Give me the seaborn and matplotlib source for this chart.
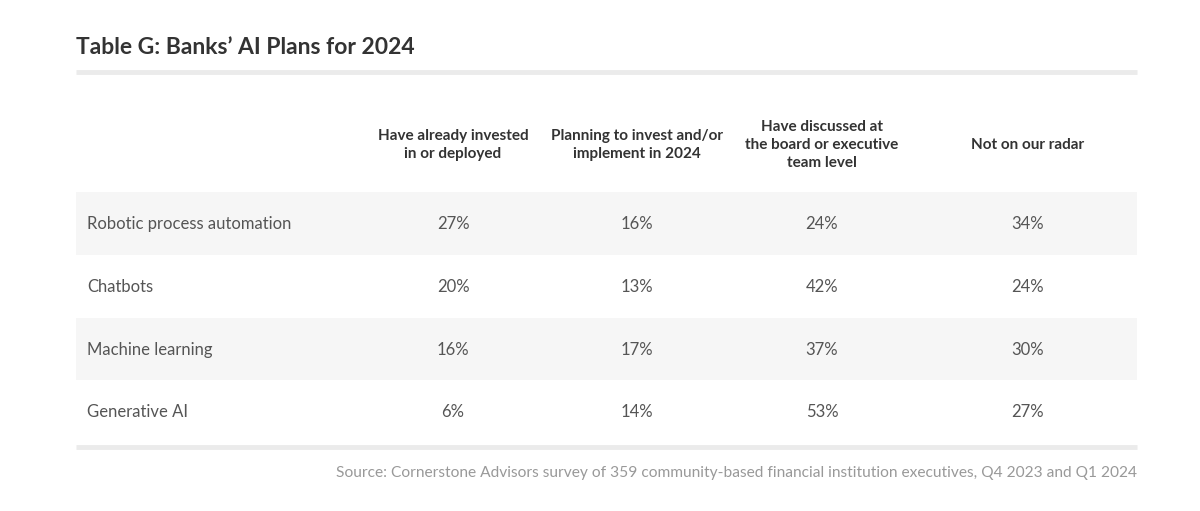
import numpy as np
import matplotlib
matplotlib.use('Agg')
import matplotlib.pyplot as plt
import seaborn as sns
from matplotlib.colors import ListedColormap

# Data
title = 'Table G: Banks\u2019 AI Plans for 2024'
columns = ['Have already invested\nin or deployed',
           'Planning to invest and/or\nimplement in 2024',
           'Have discussed at\nthe board or executive\nteam level',
           'Not on our radar']
technologies = ['Robotic process automation', 'Chatbots', 'Machine learning', 'Generative AI']
invested = [27, 20, 16, 6]
planning = [16, 13, 17, 14]
discussed = [24, 42, 37, 53]
not_radar = [34, 24, 30, 27]
source = ('Source: Cornerstone Advisors survey of 359 community-based financial '
          'institution executives, Q4 2023 and Q1 2024')

values = np.array([invested, planning, discussed, not_radar]).T

sns.set_theme(style='white')
plt.rcParams['font.family'] = ['Lato', 'DejaVu Sans']

W, H = 1200, 511
fig = plt.figure(figsize=(W / 100, H / 100), dpi=100)

# Row banding drawn as a heatmap
left, right, top, bottom = 76, 1137, 192, 443
band_ax = fig.add_axes([left / W, 1 - bottom / H, (right - left) / W, (bottom - top) / H])
bands = np.array([[i % 2] for i in range(len(technologies))])
sns.heatmap(bands, cmap=ListedColormap(['#f6f6f6', '#ffffff']), cbar=False,
            ax=band_ax, linewidths=0)
band_ax.axis('off')

# Overlay axes in pixel units for text
ax = fig.add_axes([0, 0, 1, 1], facecolor='none')
ax.set_xlim(0, W)
ax.set_ylim(H, 0)
ax.axis('off')

ax.text(76, 47, title, fontsize=16.5, fontweight='bold', color='#333333',
        ha='left', va='center')
ax.plot([76, 1137], [72, 72], color='#ebebeb', lw=3.5, solid_capstyle='butt')
ax.plot([76, 1137], [447, 447], color='#ebebeb', lw=3.5, solid_capstyle='butt')

col_x = [453, 637, 822, 1028]
for x, c in zip(col_x, columns):
    ax.text(x, 145, c, fontsize=11, fontweight='bold', color='#333333',
            ha='center', va='center', linespacing=1.4)

row_y = [224, 287, 350, 412]
for i, (y, t) in enumerate(zip(row_y, technologies)):
    ax.text(87, y, t, fontsize=12, color='#555555', ha='left', va='center')
    for j, x in enumerate(col_x):
        ax.text(x, y, f'{values[i, j]}%', fontsize=12, color='#555555',
                ha='center', va='center')

ax.text(1137, 473, source, fontsize=11.2, color='#999999', ha='right', va='center')

fig.savefig('out.png', dpi=100)
